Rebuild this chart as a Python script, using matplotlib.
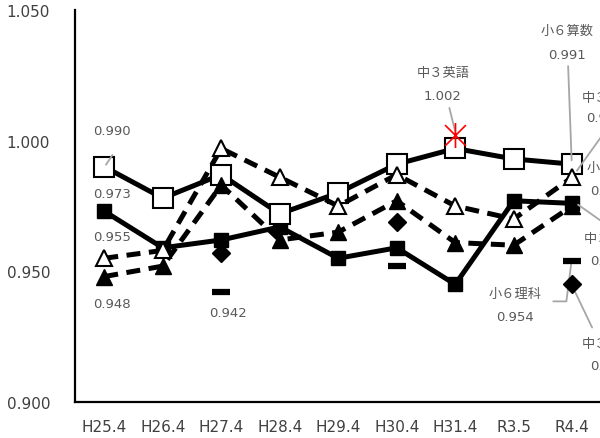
import matplotlib
matplotlib.use('Agg')
import matplotlib.pyplot as plt
from matplotlib.path import Path

plt.rcParams['font.family'] = ['DejaVu Sans', 'Noto Sans CJK JP']

# categories (survey rounds)
years = ['H25.4', 'H26.4', 'H27.4', 'H28.4', 'H29.4', 'H30.4', 'H31.4', 'R3.5', 'R4.4']

# ratio to national average for each subject
sho6_sansu = [0.990, 0.978, 0.987, 0.972, 0.980, 0.991, 0.997, 0.993, 0.991]
chu3_sugaku = [0.973, 0.959, 0.962, 0.967, 0.955, 0.959, 0.945, 0.977, 0.976]
chu3_kokugo = [0.955, 0.958, 0.997, 0.986, 0.975, 0.987, 0.975, 0.970, 0.986]
sho6_kokugo = [0.948, 0.952, 0.983, 0.962, 0.965, 0.977, 0.961, 0.960, 0.975]
sho6_rika = [None, None, 0.942, None, None, 0.952, None, None, 0.954]
chu3_rika = [None, None, 0.957, None, None, 0.969, None, None, 0.945]
chu3_eigo = [None, None, None, None, None, None, 1.002, None, None]

x = list(range(len(years)))

fig = plt.figure(figsize=(6, 4.39), dpi=100)
ax = fig.add_axes([0.125, 0.082, 0.875, 0.893])

lw = 3.6
dash = (0, (2.8, 1.7))

# excel style star: X with a vertical bar
star = Path([(-1, -1), (1, 1), (-1, 1), (1, -1), (0, -1.2), (0, 1.2)],
            [Path.MOVETO, Path.LINETO, Path.MOVETO, Path.LINETO, Path.MOVETO, Path.LINETO])

ax.plot(x, chu3_sugaku, color='black', lw=lw, marker='s', ms=10,
        mfc='black', mec='black', zorder=2)
ax.plot(x, sho6_sansu, color='black', lw=lw, marker='s', ms=14,
        mfc='white', mec='black', mew=1.5, zorder=3)
ax.plot(x, sho6_kokugo, color='black', lw=lw, ls=dash, marker='^', ms=11,
        mfc='black', mec='black', zorder=4)
ax.plot(x, chu3_kokugo, color='black', lw=lw, ls=dash, marker='^', ms=12,
        mfc='white', mec='black', mew=1.5, zorder=5)

pts = [(i, v) for i, v in zip(x, chu3_rika) if v is not None]
ax.plot([p[0] for p in pts], [p[1] for p in pts], ls='none', marker='D',
        ms=9, color='black', zorder=6)
pts = [(i, v) for i, v in zip(x, sho6_rika) if v is not None]
ax.plot([p[0] for p in pts], [p[1] for p in pts], ls='none', marker='_',
        ms=13, mew=4.5, color='black', zorder=6)
pts = [(i, v) for i, v in zip(x, chu3_eigo) if v is not None]
ax.plot([p[0] for p in pts], [p[1] for p in pts], ls='none', marker=star,
        ms=18, mew=1.2, color='#ff0000', mfc='none', zorder=7)

ax.set_xlim(-0.5, 8.475)
ax.set_ylim(0.9, 1.05)
ax.set_yticks([0.9, 0.95, 1.0, 1.05])
ax.set_yticklabels(['0.900', '0.950', '1.000', '1.050'])
ax.set_xticks(x)
ax.set_xticklabels(years)
ax.tick_params(length=0, labelsize=11, labelcolor='#404040', pad=12)
ax.tick_params(axis='y', pad=18)
for s in ['top', 'right']:
    ax.spines[s].set_visible(False)
for s in ['left', 'bottom']:
    ax.spines[s].set_linewidth(1.6)
    ax.spines[s].set_color('black')

lab = dict(fontsize=9.5, color='#595959', ha='center', va='center', clip_on=False)
edge = dict(fontsize=9.5, color='#595959', ha='left', va='center', clip_on=False)
gray = dict(arrowstyle='-', color='#a6a6a6', lw=1.3, shrinkA=0, shrinkB=0)

# data labels
ax.text(0.14, 1.0038, '0.990', **lab)
ax.annotate('', xy=(0.03, 0.9908), xytext=(0.14, 0.9945), arrowprops=gray)
ax.text(0.14, 0.9796, '0.973', **lab)
ax.text(0.14, 0.9635, '0.955', **lab)
ax.text(0.14, 0.9377, '0.948', **lab)
ax.text(2.12, 0.9342, '0.942', **lab)

ax.text(5.79, 1.026, '中３英語', **lab)
ax.text(5.79, 1.0173, '1.002', **lab)
ax.annotate('', xy=(6.0, 1.0035), xytext=(5.9, 1.0125), arrowprops=gray)

ax.text(7.91, 1.0423, '小６算数', **lab)
ax.text(7.91, 1.0331, '0.991', **lab)
ax.annotate('', xy=(7.99, 0.9925), xytext=(7.93, 1.0285), arrowprops=gray)

ax.text(7.03, 0.9415, '小６理科', **lab)
ax.text(7.03, 0.9327, '0.954', **lab)
ax.plot([7.68, 7.9, 7.98], [0.9385, 0.9385, 0.9525], color='#a6a6a6', lw=1.3,
        zorder=1, clip_on=False)

# labels running off the right edge, as in the source image
ax.text(8.17, 0.9223, '中３理科', **edge)
ax.text(8.3, 0.9138, '0.945', **edge)
ax.annotate('', xy=(8.02, 0.9435), xytext=(8.34, 0.9285), arrowprops=gray)

ax.text(8.16, 1.0165, '中３国語', **edge)
ax.text(8.24, 1.0088, '0.986', **edge)
ax.annotate('', xy=(8.08, 0.9885), xytext=(8.48, 1.001), arrowprops=gray)

ax.text(8.24, 0.9896, '小６国語', **edge)
ax.text(8.3, 0.9808, '0.975', **edge)

ax.text(8.2, 0.9627, '中３数学', **edge)
ax.text(8.3, 0.9542, '0.976', **edge)
ax.annotate('', xy=(8.1, 0.9755), xytext=(8.48, 0.9695), arrowprops=gray)

fig.savefig('out.png', dpi=100)
